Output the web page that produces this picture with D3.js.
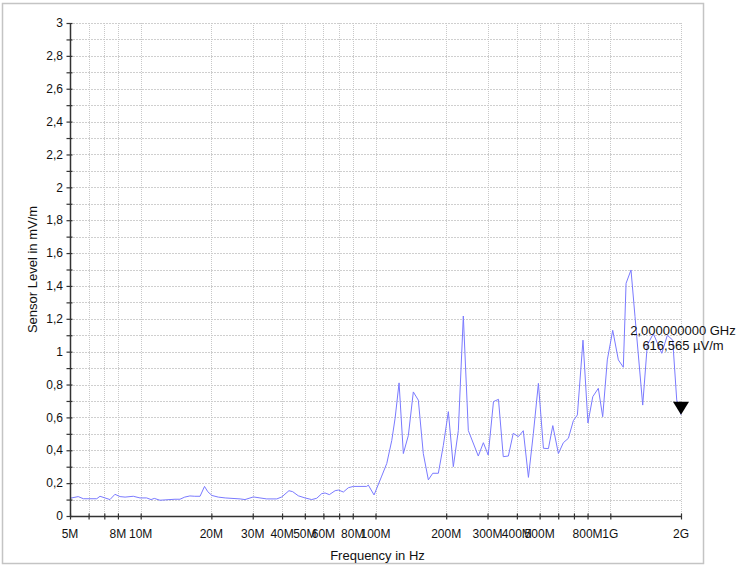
<!DOCTYPE html>
<html>
<head>
<meta charset="utf-8">
<script src="https://cdn.jsdelivr.net/npm/d3@7"></script>
<style>
  html, body { margin: 0; padding: 0; background: #fff; }
  svg { display: block; font-family: "Liberation Sans", Arial, sans-serif; }
</style>
</head>
<body>
<svg id="chart" width="739" height="565"></svg>
<script>
// Sweep frequencies (MHz) and measured field strength (mV/m)
const freqMHz = [5.0,5.42,5.70,6.50,6.71,7.40,7.77,8.17,8.58,9.30,9.93,10.6,11.07,11.43,12.08,12.69,14.0,14.7,15.4,16.2,17.0,17.9,18.7,19.3,20.1,21.4,22.9,26.5,27.8,30.2,32.2,34.4,38.0,39.9,42.8,44.4,46.9,50.1,53.5,56.2,59.0,61.0,63.6,67.3,69.5,73.0,76.6,80.5,91.7,93.2,98.6,106.3,111.7,117.3,121.2,126.0,131.4,138.0,144.9,152.2,159.8,167.9,175.3,185.2,194.5,204.3,214.5,225.3,236.6,248.5,274,288,302,318,334,350,368,386,406,426,448,470,494,519,545,569,601,631,663,696,724,765,803,842,889,928,971,1024,1082,1136,1167,1225,1274,1374,1437,1525,1656,1750,1844,1918,2000];
const levelMV = [0.108,0.118,0.105,0.105,0.12,0.10,0.132,0.118,0.115,0.12,0.11,0.11,0.10,0.107,0.096,0.098,0.102,0.102,0.115,0.122,0.12,0.12,0.18,0.148,0.125,0.115,0.11,0.104,0.10,0.116,0.11,0.104,0.104,0.116,0.154,0.148,0.123,0.11,0.10,0.108,0.136,0.14,0.13,0.154,0.158,0.146,0.172,0.18,0.18,0.188,0.128,0.243,0.32,0.46,0.595,0.81,0.38,0.49,0.755,0.705,0.38,0.22,0.26,0.26,0.43,0.635,0.30,0.52,1.217,0.52,0.365,0.446,0.371,0.696,0.71,0.361,0.365,0.503,0.483,0.519,0.235,0.50,0.807,0.412,0.41,0.55,0.38,0.446,0.473,0.58,0.615,1.07,0.566,0.726,0.777,0.604,0.95,1.13,0.95,0.905,1.416,1.497,1.213,0.675,1.04,1.11,0.99,1.10,1.07,0.706,0.616565];

// Axis ticks
const xTickMHz = [5,6,7,8,10,20,30,40,50,60,70,80,100,200,300,400,500,600,700,800,1000,2000];
const xLabelMHz = [5,8,10,20,30,40,50,60,80,100,200,300,400,500,800,1000,2000];
const yMajor = [0,0.2,0.4,0.6,0.8,1,1.2,1.4,1.6,1.8,2,2.2,2.4,2.6,2.8,3];
const yMinor = d3.range(0, 31).map(i => i / 10);

// Marker readout
const markerFreqText = "2,000000000 GHz";
const markerLevelText = "616,565 µV/m";
const markerFreq = 2000;
const markerLevel = 0.616565;

const svg = d3.select("#chart");
const m = { left: 70, right: 681, top: 23, bottom: 516 };

const x = d3.scaleLog().domain([5, 2000]).range([m.left, m.right]);
const y = d3.scaleLinear().domain([0, 3]).range([m.bottom, m.top]);

const fmtFreq = f => f >= 1000 ? (f / 1000) + "G" : f + "M";
const fmtLevel = v => String(+v.toFixed(1)).replace(".", ",");

// outer frame
svg.append("rect")
  .attr("x", 2.5).attr("y", 3.5).attr("width", 701).attr("height", 560)
  .attr("fill", "#fff").attr("stroke", "#c4c4c4").attr("stroke-width", 1.5);

// horizontal grid
svg.append("g").selectAll("line").data(yMinor.filter(v => v > 0)).join("line")
  .attr("x1", m.left).attr("x2", m.right)
  .attr("y1", d => Math.round(y(d)) + 0.5).attr("y2", d => Math.round(y(d)) + 0.5)
  .attr("stroke", "#cfcfcf").attr("stroke-width", 1).attr("stroke-dasharray", "2,1");

// vertical grid
svg.append("g").selectAll("line").data(xTickMHz.filter(v => v > 5)).join("line")
  .attr("x1", d => Math.round(x(d)) + 0.5).attr("x2", d => Math.round(x(d)) + 0.5)
  .attr("y1", m.top).attr("y2", m.bottom)
  .attr("stroke", "#c8c8c8").attr("stroke-width", 1).attr("stroke-dasharray", "1,1");

// data trace
const line = d3.line().x((d, i) => x(freqMHz[i])).y(d => y(d));
svg.append("path")
  .datum(levelMV)
  .attr("d", line)
  .attr("fill", "none")
  .attr("stroke", "#7a7aff")
  .attr("stroke-width", 1);

// y axis
const yAxis = svg.append("g").attr("transform", `translate(${m.left},0)`);
yAxis.call(d3.axisLeft(y).tickValues(yMinor).tickSize(0).tickFormat(""));
yAxis.select(".domain").attr("stroke", "#333").attr("stroke-width", 1.5);
yAxis.selectAll(".tick line").attr("x1", -3.5).attr("x2", 2.5).attr("stroke", "#333").attr("stroke-width", 1.2);
yAxis.selectAll(".tick text").remove();
svg.append("g").selectAll("text").data(yMajor).join("text")
  .attr("x", 63).attr("y", d => y(d))
  .attr("dy", "0.35em").attr("text-anchor", "end")
  .attr("font-size", 12).attr("fill", "#111")
  .text(fmtLevel);

// x axis
const xAxis = svg.append("g").attr("transform", `translate(0,${m.bottom})`);
xAxis.call(d3.axisBottom(x).tickValues(xTickMHz).tickSize(0).tickFormat(""));
xAxis.select(".domain").attr("stroke", "#333").attr("stroke-width", 1.5);
xAxis.selectAll(".tick line").attr("y1", -2.5).attr("y2", 3.5).attr("stroke", "#333").attr("stroke-width", 1.2);
xAxis.selectAll(".tick text").remove();
svg.append("g").selectAll("text").data(xLabelMHz).join("text")
  .attr("x", d => x(d)).attr("y", 534)
  .attr("dy", "0.35em").attr("text-anchor", "middle")
  .attr("font-size", 12).attr("fill", "#111")
  .text(fmtFreq);

// axis titles
svg.append("text")
  .attr("x", (m.left + m.right) / 2 + 2).attr("y", 555)
  .attr("dy", "0.35em").attr("text-anchor", "middle")
  .attr("font-size", 13).attr("fill", "#111")
  .text("Frequency in Hz");
svg.append("text")
  .attr("transform", `translate(32,${(m.top + m.bottom) / 2}) rotate(-90)`)
  .attr("dy", "0.35em").attr("text-anchor", "middle")
  .attr("font-size", 13).attr("fill", "#111")
  .text("Sensor Level in mV/m");

// marker
const mx = x(markerFreq), my = y(markerLevel);
svg.append("path")
  .attr("d", `M${mx - 8},${my - 13}L${mx + 8},${my - 13}L${mx},${my}Z`)
  .attr("fill", "#000");
svg.append("text")
  .attr("x", mx + 2).attr("y", my - 84)
  .attr("dy", "0.35em").attr("text-anchor", "middle")
  .attr("font-size", 13).attr("fill", "#111")
  .text(markerFreqText);
svg.append("text")
  .attr("x", mx + 2).attr("y", my - 69)
  .attr("dy", "0.35em").attr("text-anchor", "middle")
  .attr("font-size", 13).attr("fill", "#111")
  .text(markerLevelText);
</script>
</body>
</html>
